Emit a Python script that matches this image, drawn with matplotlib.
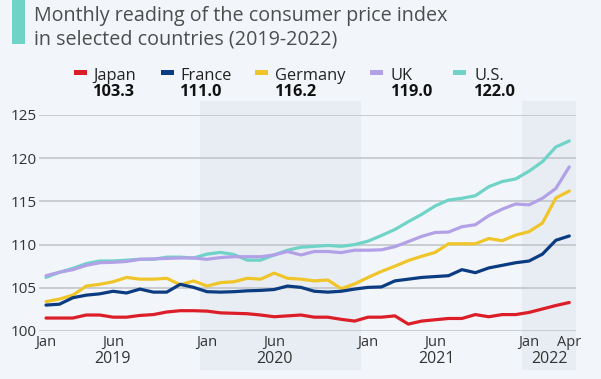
import numpy as np
import matplotlib
matplotlib.use("Agg")
import matplotlib.pyplot as plt
from matplotlib.patches import Rectangle
from matplotlib.transforms import blended_transform_factory

plt.rcParams['font.family'] = ['Open Sans', 'DejaVu Sans']

# monthly CPI readings, Jan 2019 .. Apr 2022
japan = [101.5, 101.5, 101.5, 101.85, 101.85, 101.6, 101.6, 101.8, 101.9, 102.2,
         102.35, 102.35, 102.3, 102.1, 102.05, 102.0, 101.85, 101.65, 101.75, 101.85,
         101.6, 101.6, 101.35, 101.15, 101.6, 101.6, 101.75, 100.8, 101.15, 101.3,
         101.45, 101.45, 101.9, 101.65, 101.9, 101.9, 102.15, 102.55, 102.95, 103.3]
france = [103.0, 103.1, 103.85, 104.15, 104.3, 104.6, 104.4, 104.85, 104.5, 104.5,
          105.4, 105.05, 104.55, 104.5, 104.55, 104.65, 104.7, 104.8, 105.2, 105.05,
          104.6, 104.5, 104.6, 104.85, 105.05, 105.1, 105.8, 106.0, 106.2, 106.3,
          106.4, 107.1, 106.75, 107.3, 107.6, 107.9, 108.1, 108.9, 110.5, 111.0]
germany = [103.4, 103.7, 104.15, 105.2, 105.4, 105.7, 106.2, 106.0, 106.0, 106.1,
           105.35, 105.8, 105.2, 105.6, 105.7, 106.1, 106.0, 106.7, 106.1, 106.0,
           105.8, 105.9, 104.9, 105.45, 106.2, 106.9, 107.5, 108.15, 108.65, 109.1,
           110.1, 110.1, 110.1, 110.7, 110.45, 111.1, 111.5, 112.5, 115.4, 116.2]
uk = [106.4, 106.8, 107.1, 107.6, 107.9, 107.95, 108.05, 108.3, 108.35, 108.4,
      108.45, 108.45, 108.3, 108.5, 108.6, 108.6, 108.6, 108.8, 109.2, 108.8,
      109.2, 109.2, 109.07, 109.35, 109.35, 109.4, 109.76, 110.35, 110.95, 111.4,
      111.45, 112.07, 112.3, 113.35, 114.1, 114.7, 114.6, 115.36, 116.5, 119.0]
us = [106.2, 106.8, 107.25, 107.8, 108.1, 108.1, 108.2, 108.3, 108.3, 108.55,
      108.55, 108.45, 108.9, 109.1, 108.85, 108.2, 108.2, 108.8, 109.35, 109.7,
      109.8, 109.9, 109.8, 110.0, 110.4, 111.05, 111.75, 112.65, 113.5, 114.47,
      115.16, 115.36, 115.66, 116.7, 117.3, 117.6, 118.5, 119.6, 121.3, 122.0]

countries = ["Japan", "France", "Germany", "UK", "U.S."]
latest = ["103.3", "111.0", "116.2", "119.0", "122.0"]
colors = ["#dc1e28", "#0b3b80", "#efc52a", "#b3a1e8", "#6fd3c8"]

tick_pos = [0, 5, 12, 17, 24, 29, 36, 39]
tick_labels = ["Jan", "Jun", "Jan", "Jun", "Jan", "Jun", "Jan", "Apr"]
years = ["2019", "2020", "2021", "2022"]
year_pos = [4.95, 17, 29.1, 37.5]

W, H = 601, 379
bg = "#f2f6fa"
fig = plt.figure(figsize=(W / 100, H / 100), dpi=100, facecolor=bg)

def px(x, y):
    return x / W, 1 - y / H

ax = fig.add_axes([39.3 / W, 1 - 331 / H, (576 - 39.3) / W, (331 - 115) / H])
ax.set_facecolor("none")

months = np.arange(len(japan))

# shaded years (2020 and 2022) run from the legend down to the bottom edge
shade = blended_transform_factory(ax.transData, fig.transFigure)
for a, b in [(11.5, 23.5), (35.5, 39.5)]:
    r = Rectangle((a, px(0, 370)[1]), b - a, px(0, 101)[1] - px(0, 370)[1],
                  transform=shade, facecolor="#e8edf4", edgecolor="none",
                  clip_on=False, zorder=0)
    fig.add_artist(r)

for yv in range(100, 126, 5):
    ax.axhline(yv, color="#bfc3c7", lw=1.1, zorder=1)

series = [japan, france, germany, uk, us]
for vals, c in reversed(list(zip(series, colors))):
    ax.plot(months, vals, color=c, lw=2.3, solid_capstyle="round", zorder=3)

ax.set_xlim(-0.5, 39.5)
ax.set_ylim(100, 125)
ax.set_yticks(range(100, 126, 5))
ax.set_xticks(tick_pos)
ax.set_xticklabels(tick_labels)
ax.tick_params(length=0, labelsize=10.5, labelcolor="#333333")
ax.tick_params(axis="y", pad=2, labelsize=11)
ax.tick_params(axis="x", pad=3)
for s in ax.spines.values():
    s.set_visible(False)

for yr, xp in zip(years, year_pos):
    ax.text(xp, px(0, 359)[1], yr, transform=shade, ha="center", va="center",
            fontsize=11.5, color="#333333")

# title with accent bar
fig.add_artist(Rectangle(px(12, 44), 13 / W, 44 / H, transform=fig.transFigure,
                         facecolor="#6fd3c8", edgecolor="none"))
fig.text(*px(34, 21), "Monthly reading of the consumer price index",
         fontsize=14.2, color="#4d4d4d", va="baseline")
fig.text(*px(34, 44), "in selected countries (2019-2022)",
         fontsize=14.2, color="#4d4d4d", va="baseline")

# legend with latest values
marker_x = [74, 161, 255, 370, 453]
text_x = [93, 180, 275, 391, 474]
for name, val, c, mx, tx in zip(countries, latest, colors, marker_x, text_x):
    fig.add_artist(Rectangle(px(mx, 74.5), 13 / W, 4.5 / H, transform=fig.transFigure,
                             facecolor=c, edgecolor="none"))
    fig.text(*px(tx, 80), name, fontsize=11.8, color="#222222", va="baseline")
    fig.text(*px(tx, 96.5), val, fontsize=11.8, fontweight="bold", color="#111111",
             va="baseline")

fig.savefig("out.png", dpi=100, facecolor=bg)
